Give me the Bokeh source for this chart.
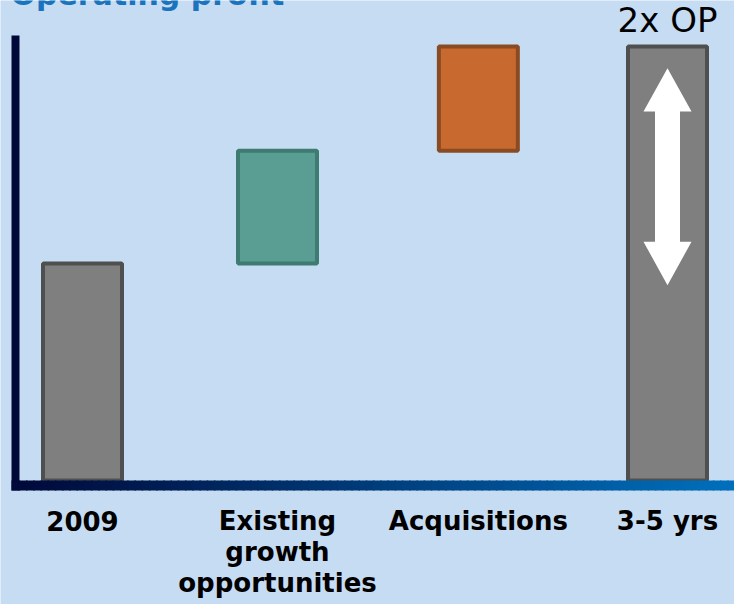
from bokeh.plotting import figure
from bokeh.models import Range1d, Label, ColumnDataSource
from bokeh.core.properties import value
from bokeh.embed import file_html
from bokeh.resources import INLINE

# ---------------- data ----------------
categories = ["2009", "Existing\ngrowth\nopportunities", "Acquisitions", "3-5 yrs"]
bar_bottom = [0, 100, 152, 0]
bar_top = [100, 152, 200, 200]
target_label = "2x OP"
title_text = "Operating profit"

# ---------------- layout / style ----------------
W, H = 734, 604
X0, SX = 82.0, 195.0      # pixel of slot 0 centre, pixels per slot
Y0, SY = 480.0, 2.17      # pixel of value 0, pixels per value unit
slots = [0, 1, 2.03, 3]
bar_w = 0.405
fills = ["#7f7f7f", "#5a9d93", "#c8692f", "#7f7f7f"]
lines = ["#4f4f4f", "#3e7b71", "#8a4b22", "#4f4f4f"]
BG = "#c6dcf3"
FONT = "DejaVu Sans"


def px_x(px):
    return (px - X0) / SX


def px_y(py):
    return (Y0 - py) / SY


p = figure(width=W, height=H, output_backend="svg", toolbar_location=None,
           x_range=Range1d(px_x(0), px_x(W)), y_range=Range1d(px_y(H), px_y(0)),
           min_border=0, background_fill_color=BG, border_fill_color=BG,
           outline_line_color=None)
p.xaxis.visible = False
p.yaxis.visible = False
p.grid.visible = False

src = ColumnDataSource(dict(x=slots, bottom=bar_bottom, top=bar_top,
                            fill=fills, line=lines))
p.vbar(x="x", width=bar_w, bottom="bottom", top="top", source=src,
       fill_color="fill", line_color="line", line_width=4)

# white double arrow inside the final bar (relative to its height)
tot = bar_top[3]
cx = slots[3]
hw, sw = 24 / SX, 12.5 / SX
tip_t, base_t, base_b, tip_b = 0.95 * tot, 0.85 * tot, 0.55 * tot, 0.45 * tot
p.patch([cx, cx + hw, cx + sw, cx + sw, cx + hw, cx, cx - hw, cx - sw, cx - sw, cx - hw],
        [tip_t, base_t, base_t, base_b, base_b, tip_b, base_b, base_b, base_t, base_t],
        fill_color="white", line_color=None)

p.text(x=[cx], y=[tot], text=[target_label], text_align="center",
       text_baseline="alphabetic", y_offset=-27, text_font=value(FONT),
       text_font_size="34px", text_color="black")

# axes: vertical navy line and gradient horizontal line
p.quad(left=[px_x(11)], right=[px_x(19)], top=[px_y(35)], bottom=[px_y(490)],
       fill_color="#000838", line_color=None)

c0 = (0x00, 0x08, 0x38)
c1 = (0x00, 0x70, 0xbc)
n = 100
x_start, x_end = 11.0, 734.0
lefts, rights, cols = [], [], []
for i in range(n):
    a = x_start + (x_end - x_start) * i / n
    b = x_start + (x_end - x_start) * (i + 1) / n
    t = (i + 0.5) / n
    col = "#%02x%02x%02x" % tuple(int(round(c0[k] + (c1[k] - c0[k]) * t)) for k in range(3))
    lefts.append(px_x(a))
    rights.append(px_x(b + 1.5))
    cols.append(col)
p.quad(left=lefts, right=rights, top=[px_y(480)] * n, bottom=[px_y(490)] * n,
       fill_color=cols, line_color=None)

# category labels, one text per line of each category name
lx, lt, lo = [], [], []
for s, cat in zip(slots, categories):
    for j, part in enumerate(cat.split("\n")):
        lx.append(s)
        lt.append(part)
        lo.append(40 + 31 * j)
p.text(x=lx, y=[0] * len(lx), text=lt, y_offset=lo, text_align="center",
       text_baseline="alphabetic", text_font=value(FONT),
       text_font_style="bold", text_font_size="26px", text_color="black")

# title (cut off at the top, as in the original slide)
p.add_layout(Label(x=10, y=H + 6, x_units="screen", y_units="screen",
                   text=title_text, text_font=FONT, text_font_style="bold",
                   text_font_size="30px", text_color="#1a73bd",
                   text_baseline="alphabetic"))

open("out.html", "w").write(file_html(p, INLINE))
